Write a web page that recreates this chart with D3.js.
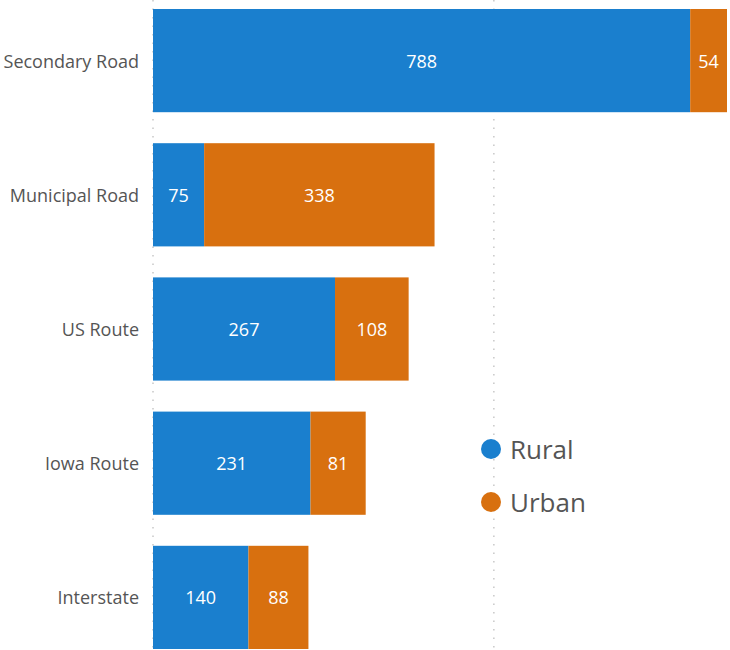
<!DOCTYPE html>
<html><head><meta charset="utf-8">
<script src="https://cdn.jsdelivr.net/npm/d3@7"></script>
<style>body{margin:0;background:#fff;} text{font-family:"Segoe UI","Open Sans","Noto Sans",sans-serif;}</style>
</head><body>
<svg id="c" width="730" height="650"></svg>
<script>
const categories = ["Secondary Road","Municipal Road","US Route","Iowa Route","Interstate"];
const rural = [788, 75, 267, 231, 140];
const urban = [54, 338, 108, 81, 88];
const seriesNames = ["Rural","Urban"];
const gridTicks = [0, 500];

const colors = {Rural:"#1a7fce", Urban:"#d8700f"};
const svg = d3.select("#c");
const x = d3.scaleLinear().domain([0, 842]).range([153, 727]);
const y = d3.scaleBand().domain(categories).range([9, 649]).paddingInner(0.231).paddingOuter(0);

// gridlines
svg.append("g").selectAll("line").data(gridTicks).join("line")
  .attr("x1", d=>x(d)).attr("x2", d=>x(d)).attr("y1", 0).attr("y2", 650)
  .attr("stroke","#c8c8c8").attr("stroke-width",1.5).attr("stroke-dasharray","1.5,7");

const rows = categories.map((c,i)=>({cat:c, Rural:rural[i], Urban:urban[i]}));
const stack = d3.stack().keys(seriesNames)(rows);

const g = svg.append("g");
stack.forEach(s=>{
  const key = s.key;
  g.append("g").selectAll("rect").data(s).join("rect")
    .attr("x", d=>x(d[0])).attr("width", d=>x(d[1])-x(d[0]))
    .attr("y", d=>y(d.data.cat)).attr("height", y.bandwidth())
    .attr("fill", colors[key]);
  g.append("g").selectAll("text").data(s).join("text")
    .attr("x", d=>(x(d[0])+x(d[1]))/2).attr("y", d=>y(d.data.cat)+y.bandwidth()/2)
    .attr("text-anchor","middle").attr("dominant-baseline","central")
    .attr("fill","#fff").attr("font-size",18)
    .text(d=>d[1]-d[0]);
});

// category axis labels
svg.append("g").selectAll("text").data(categories).join("text")
  .attr("x", 139).attr("y", d=>y(d)+y.bandwidth()/2)
  .attr("text-anchor","end").attr("dominant-baseline","central")
  .attr("fill","#555").attr("font-size",18).text(d=>d);

// legend
const lg = svg.append("g").selectAll("g").data(seriesNames).join("g")
  .attr("transform",(d,i)=>`translate(491,${449+i*53})`);
lg.append("circle").attr("r",10).attr("fill",d=>colors[d]);
lg.append("text").attr("x",19).attr("y",0).attr("dominant-baseline","central")
  .attr("fill","#555").attr("font-size",26).text(d=>d);
</script>
</body></html>
